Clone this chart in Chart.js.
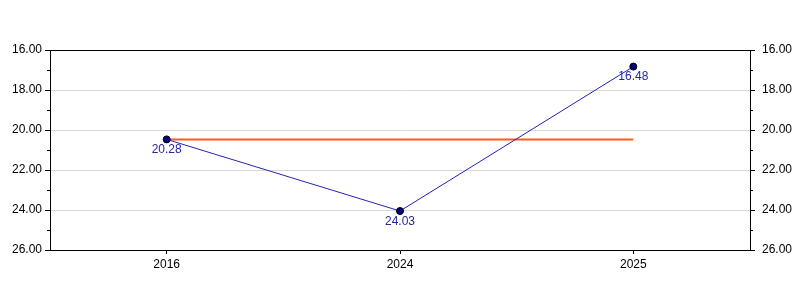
<!DOCTYPE html>
<html>
<head>
<meta charset="utf-8">
<script src="https://cdn.jsdelivr.net/npm/chart.js@4/dist/chart.umd.min.js"></script>
<style>
html,body{margin:0;padding:0;background:#fff;}
canvas{display:block;}
</style>
</head>
<body>
<canvas id="c" width="800" height="300"></canvas>
<script>
const categories = ['2016', '2024', '2025'];
const seriesValues = [20.47, 24.05, 16.83];
const seriesLabels = ['20.28', '24.03', '16.48'];
const referenceValues = [20.48, 20.48, 20.48];
const yMin = 16, yMax = 26, yStep = 2;
const minorTickValues = [17, 19, 21, 23, 25];

const FONT = 'Liberation Sans, Arial, sans-serif';

const minorTicksPlugin = {
  id: 'minorTicks',
  afterDraw(chart) {
    const ctx = chart.ctx;
    const area = chart.chartArea;
    ctx.save();
    ctx.strokeStyle = '#000';
    ctx.lineWidth = 1;
    // top border
    ctx.beginPath();
    ctx.moveTo(area.left, Math.round(area.top) + 0.5);
    ctx.lineTo(area.right, Math.round(area.top) + 0.5);
    ctx.stroke();
    const y = chart.scales.y, y2 = chart.scales.y2;
    minorTickValues.forEach(v => {
      const py = Math.round(y.getPixelForValue(v)) + 0.5;
      ctx.beginPath();
      ctx.moveTo(area.left - 3, py);
      ctx.lineTo(area.left, py);
      ctx.stroke();
      const py2 = Math.round(y2.getPixelForValue(v)) + 0.5;
      ctx.beginPath();
      ctx.moveTo(area.right, py2);
      ctx.lineTo(area.right + 3, py2);
      ctx.stroke();
    });
    // data labels
    const meta = chart.getDatasetMeta(1);
    ctx.fillStyle = '#2626a0';
    ctx.font = '12px ' + FONT;
    ctx.textAlign = 'center';
    ctx.textBaseline = 'middle';
    meta.data.forEach((pt, i) => {
      ctx.fillText(seriesLabels[i], pt.x, pt.y + 10.5);
    });
    ctx.restore();
  }
};

new Chart(document.getElementById('c'), {
  type: 'line',
  data: {
    labels: categories,
    datasets: [
      {
        data: referenceValues,
        borderColor: '#ff5a1a',
        borderWidth: 2,
        pointRadius: 0,
        fill: false,
        order: 2
      },
      {
        data: seriesValues,
        borderColor: '#2222bb',
        borderWidth: 1,
        pointRadius: 3.5,
        pointBackgroundColor: '#000080',
        pointBorderColor: '#000000',
        pointBorderWidth: 1,
        fill: false,
        order: 1
      }
    ]
  },
  options: {
    responsive: false,
    animation: false,
    events: [],
    layout: { padding: { top: 50, left: 0, right: 0, bottom: 0 } },
    plugins: { legend: { display: false }, tooltip: { enabled: false } },
    scales: {
      x: {
        type: 'category',
        offset: true,
        grid: { display: true, drawOnChartArea: false, tickLength: 4, tickColor: '#000' },
        border: { color: '#000' },
        ticks: { color: '#000', font: { family: FONT, size: 12 }, padding: 3, maxRotation: 0 },
        afterFit(s) { s.height = 50; }
      },
      y: {
        position: 'left',
        min: yMin, max: yMax, reverse: true,
        grid: {
          color: c => (c.tick && (c.tick.value === yMin || c.tick.value === yMax)) ? 'rgba(0,0,0,0)' : '#d9d9d9',
          tickColor: '#000', tickLength: 5
        },
        border: { color: '#000' },
        ticks: { stepSize: yStep, color: '#000', font: { family: FONT, size: 12 }, padding: 3,
          callback: v => Number(v).toFixed(2) },
        afterFit(s) { s.width = 50; }
      },
      y2: {
        position: 'right',
        min: yMin, max: yMax, reverse: true,
        grid: { drawOnChartArea: false, tickColor: '#000', tickLength: 5 },
        border: { color: '#000' },
        ticks: { stepSize: yStep, color: '#000', font: { family: FONT, size: 12 }, padding: 7,
          callback: v => Number(v).toFixed(2) },
        afterFit(s) { s.width = 50; }
      }
    }
  },
  plugins: [minorTicksPlugin]
});
</script>
</body>
</html>
